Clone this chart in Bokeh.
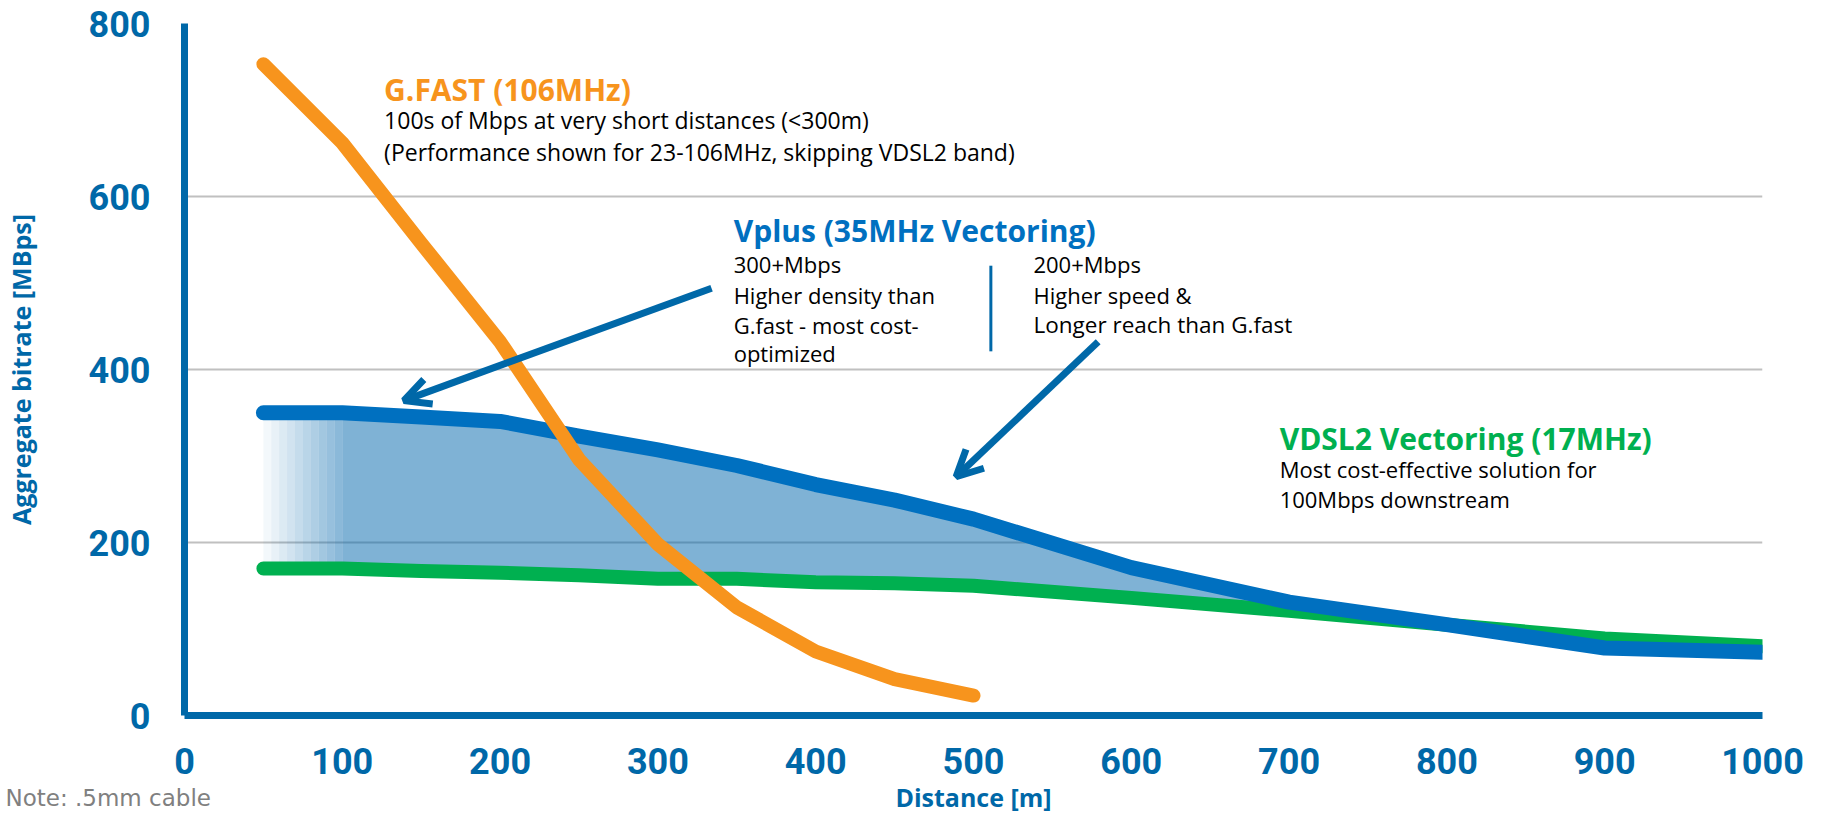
import numpy as np
from bokeh.plotting import figure
from bokeh.models import Label, Arrow, OpenHead, FixedTicker, Range1d, Title
from bokeh.embed import file_html
from bokeh.resources import INLINE

# ---- data ----
distance = [50, 100, 150, 200, 250, 300, 350, 400, 450, 500, 600, 700, 800, 900, 1000]
vplus = [350, 350, 345, 340, 323, 307, 289, 267, 249, 227, 171, 131, 105, 78, 73]
vdsl2 = [170, 170, 167, 165, 162, 158, 158, 154, 153, 150, 136, 121, 105, 89, 80]
gfast_distance = [50, 100, 150, 200, 250, 300, 350, 400, 450, 500]
gfast = [753, 662, 546, 432, 296, 198, 125, 74, 42, 23]
x_ticks = [0, 100, 200, 300, 400, 500, 600, 700, 800, 900, 1000]
y_ticks = [0, 200, 400, 600, 800]

AXIS_BLUE = "#0068A8"
LINE_BLUE = "#0070C0"
FILL_BLUE = "#0065AB"
ORANGE = "#F7941D"
GREEN = "#00B050"
FONT = "Open Sans"
TICK_FONT = "Roboto"

p = figure(width=1809, height=817, x_range=Range1d(0, 1000), y_range=Range1d(0, 800),
           output_backend="svg", toolbar_location=None,
           min_border_left=179, min_border_right=47, min_border_top=23, min_border_bottom=102)
p.outline_line_color = None
p.background_fill_color = "white"
p.title.visible = False

# axes
for ax in (p.xaxis, p.yaxis):
    ax.axis_line_color = AXIS_BLUE
    ax.axis_line_width = 7
    ax.major_tick_line_color = None
    ax.minor_tick_line_color = None
    ax.major_tick_out = 0
    ax.major_tick_in = 0
    ax.minor_tick_out = 0
    ax.minor_tick_in = 0
    ax.major_label_text_font = TICK_FONT
    ax.major_label_text_font_style = "bold"
    ax.major_label_text_font_size = "36px"
    ax.major_label_text_color = AXIS_BLUE
    ax.axis_label_text_font = FONT
    ax.axis_label_text_font_style = "bold"
    ax.axis_label_text_font_size = "25px"
    ax.axis_label_text_color = AXIS_BLUE
p.xaxis.ticker = FixedTicker(ticks=x_ticks)
p.yaxis.ticker = FixedTicker(ticks=y_ticks)
p.xaxis.major_label_standoff = 32
p.yaxis.major_label_standoff = 34
p.xaxis.axis_label = "Distance [m]"
p.yaxis.axis_label = "Aggregate bitrate [MBps]"
p.xaxis.axis_label_standoff = 3
p.yaxis.axis_label_standoff = 48

p.xgrid.grid_line_color = None
p.ygrid.ticker = FixedTicker(ticks=y_ticks)
p.ygrid.grid_line_color = "#C0C0C0"
p.ygrid.grid_line_width = 2

# faded start of the Vplus gain area
fade_x = np.linspace(distance[0], distance[1], 11)
for i in range(10):
    xs = [fade_x[i], fade_x[i + 1]]
    p.varea(x=xs, y1=np.interp(xs, distance, vdsl2), y2=np.interp(xs, distance, vplus),
            fill_color=FILL_BLUE, fill_alpha=0.5 * (i + 1) / 11)
# main Vplus gain area
p.varea(x=distance[1:], y1=vdsl2[1:], y2=vplus[1:], fill_color=FILL_BLUE, fill_alpha=0.5)

p.line(distance, vdsl2, line_color=GREEN, line_width=14, line_cap="round", line_join="round")
p.line(distance, vplus, line_color=LINE_BLUE, line_width=15, line_cap="round", line_join="round")
p.line(gfast_distance, gfast, line_color=ORANGE, line_width=14, line_cap="round", line_join="round")

# arrows
for xs, ys, xe, ye in [(334, 494, 139, 364), (579, 432, 489, 276)]:
    p.add_layout(Arrow(end=OpenHead(size=26, line_color=AXIS_BLUE, line_width=7),
                       x_start=xs, y_start=ys, x_end=xe, y_end=ye,
                       line_color=AXIS_BLUE, line_width=7))

# separator in Vplus annotation
p.segment(x0=[511], y0=[520], x1=[511], y1=[421], line_color=AXIS_BLUE, line_width=3)


def label(x, y, text, color="#000000", size="22px", bold=False):
    p.add_layout(Label(x=x, y=y, text=text, text_font=FONT, text_font_size=size,
                       text_color=color, text_font_style="bold" if bold else "normal",
                       text_baseline="middle", text_align="left"))


label(126.5, 724, "G.FAST (106MHz)", ORANGE, "30px", True)
label(126.5, 689, "100s of Mbps at very short distances (<300m)", size="23px")
label(126.5, 651, "(Performance shown for 23-106MHz, skipping VDSL2 band)", size="23px")

label(348, 561, "Vplus (35MHz Vectoring)", LINE_BLUE, "30px", True)
label(348, 522, "300+Mbps")
label(348, 486.5, "Higher density than")
label(348, 451.5, "G.fast  - most cost-")
label(348, 419, "optimized")
label(538, 522, "200+Mbps")
label(538, 486.5, "Higher speed &")
label(538, 451.5, "Longer reach than G.fast", size="22.5px")

label(694, 320.5, "VDSL2 Vectoring (17MHz)", GREEN, "30px", True)
label(694, 285, "Most cost-effective  solution for")
label(694, 250, "100Mbps downstream")

# footnote, in the panel below the x axis
p.add_layout(Title(text="Note:  .5mm cable", align="left", offset=-179, standoff=-64,
                   vertical_align="top", text_font="DejaVu Sans", text_font_size="23px",
                   text_font_style="normal", text_color="#808080"), "below")

open("out.html", "w").write(file_html(p, INLINE))
